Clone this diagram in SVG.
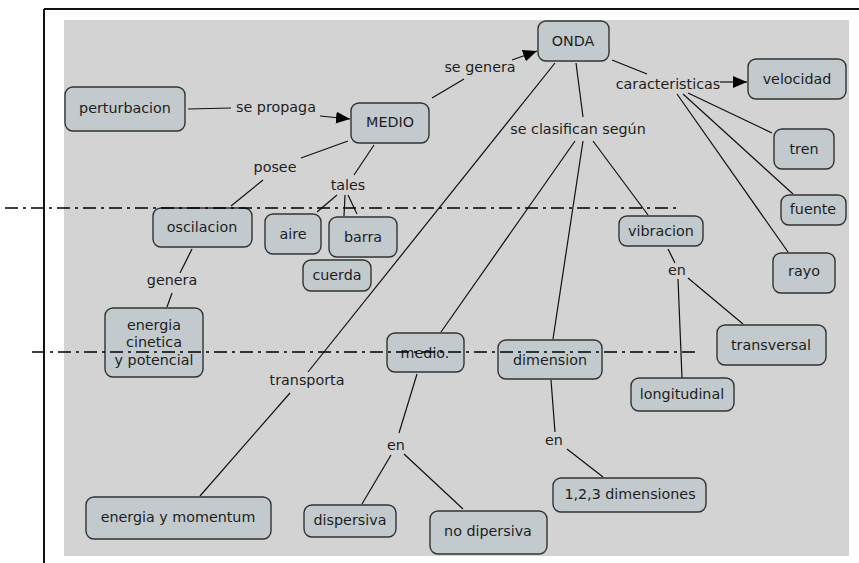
<svg xmlns="http://www.w3.org/2000/svg" width="859" height="563" viewBox="0 0 859 563">
  <style>
    .node rect { fill: #c2cacd; stroke: #333; stroke-width: 1.4; }
    text { font-family: "DejaVu Sans", Verdana, sans-serif; font-size: 14.3px; fill: #1e1e1e; text-anchor: middle; dominant-baseline: central; }
    .conn line { stroke: #111; stroke-width: 1.2; fill: none; }
    .guide { stroke: #000; stroke-width: 1.5; stroke-dasharray: 13 5 3 5; }
  </style>
  <defs>
    <marker id="arrow" markerUnits="userSpaceOnUse" markerWidth="14" markerHeight="12" refX="14" refY="6" orient="auto">
      <path d="M0,0 L14,6 L0,12 z" fill="#000"/>
    </marker>
  </defs>

  <rect width="859" height="563" fill="#fff"/>
  <!-- frame -->
  <line x1="44" y1="9" x2="859" y2="9" stroke="#111" stroke-width="2"/>
  <line x1="44" y1="9" x2="44" y2="563" stroke="#111" stroke-width="2"/>
  <!-- canvas -->
  <rect x="64" y="20" width="785" height="536" fill="#d3d3d3"/>

  <g class="conn" id="connectors">
    <line x1="188" y1="109" x2="231" y2="108"/>
    <line x1="320" y1="116" x2="350" y2="119" marker-end="url(#arrow)"/>
    <line x1="432" y1="98" x2="464" y2="79"/>
    <line x1="512" y1="60" x2="537" y2="51" marker-end="url(#arrow)"/>
    <line x1="612" y1="60" x2="647" y2="74"/>
    <line x1="720" y1="82" x2="747" y2="82" marker-end="url(#arrow)"/>
    <line x1="688" y1="93" x2="772" y2="133"/>
    <line x1="683" y1="94" x2="793" y2="194"/>
    <line x1="677" y1="94" x2="788" y2="252"/>
    <line x1="576" y1="63" x2="583" y2="117"/>
    <line x1="575" y1="141" x2="441" y2="332"/>
    <line x1="583" y1="141" x2="553" y2="339"/>
    <line x1="593" y1="141" x2="648" y2="215"/>
    <line x1="668" y1="249" x2="675" y2="263"/>
    <line x1="678" y1="279" x2="682" y2="378"/>
    <line x1="688" y1="278" x2="743" y2="324"/>
    <line x1="555" y1="63" x2="308" y2="372"/>
    <line x1="290" y1="393" x2="200" y2="496"/>
    <line x1="417" y1="374" x2="399" y2="433"/>
    <line x1="391" y1="455" x2="362" y2="504"/>
    <line x1="404" y1="454" x2="463" y2="509"/>
    <line x1="551" y1="380" x2="555" y2="432"/>
    <line x1="567" y1="449" x2="603" y2="477"/>
    <line x1="348" y1="141" x2="301" y2="158"/>
    <line x1="263" y1="180" x2="231" y2="206"/>
    <line x1="192" y1="249" x2="180" y2="273"/>
    <line x1="172" y1="293" x2="167" y2="307"/>
    <line x1="374" y1="145" x2="354" y2="175"/>
    <line x1="337" y1="195" x2="317" y2="212"/>
    <line x1="345" y1="195" x2="344" y2="216"/>
    <line x1="348" y1="195" x2="357" y2="214"/>
  </g>

  <!-- link labels -->
  <g id="labels">
    <text x="276" y="107">se propaga</text>
    <text x="480" y="67">se genera</text>
    <text x="668" y="84">caracteristicas</text>
    <text x="578" y="129">se clasifican según</text>
    <text x="275" y="167">posee</text>
    <text x="348" y="185">tales</text>
    <text x="172" y="280">genera</text>
    <text x="677" y="270">en</text>
    <text x="307" y="380">transporta</text>
    <text x="396" y="445">en</text>
    <text x="554" y="440">en</text>
  </g>

  <g class="node" id="perturbacion"><rect x="65" y="87" width="120" height="44" rx="8"/><text x="125" y="108">perturbacion</text></g>
  <g class="node" id="medio-top"><rect x="351" y="103" width="78" height="40" rx="8"/><text x="390" y="122">MEDIO</text></g>
  <g class="node" id="onda"><rect x="538" y="21" width="71" height="40" rx="8"/><text x="573" y="41">ONDA</text></g>
  <g class="node" id="velocidad"><rect x="748" y="59" width="98" height="40" rx="8"/><text x="797" y="79">velocidad</text></g>
  <g class="node" id="tren"><rect x="774" y="129" width="60" height="40" rx="8"/><text x="804" y="149">tren</text></g>
  <g class="node" id="fuente"><rect x="781" y="195" width="65" height="30" rx="8"/><text x="813" y="209">fuente</text></g>
  <g class="node" id="rayo"><rect x="773" y="253" width="62" height="40" rx="8"/><text x="804" y="271">rayo</text></g>
  <g class="node" id="oscilacion"><rect x="153" y="208" width="99" height="39" rx="8"/><text x="202" y="227">oscilacion</text></g>
  <g class="node" id="aire"><rect x="265" y="214" width="56" height="40" rx="8"/><text x="293" y="234">aire</text></g>
  <g class="node" id="barra"><rect x="329" y="217" width="68" height="40" rx="8"/><text x="363" y="237">barra</text></g>
  <g class="node" id="cuerda"><rect x="303" y="260" width="68" height="31" rx="8"/><text x="337" y="275">cuerda</text></g>
  <g class="node" id="energia-cinetica"><rect x="105" y="308" width="98" height="69" rx="8"/>
    <text x="154" y="325">energia</text><text x="154" y="342">cinetica</text><text x="154" y="360">y potencial</text></g>
  <g class="node" id="vibracion"><rect x="619" y="216" width="84" height="30" rx="8"/><text x="661" y="231">vibracion</text></g>
  <g class="node" id="transversal"><rect x="717" y="325" width="109" height="40" rx="8"/><text x="771" y="345">transversal</text></g>
  <g class="node" id="longitudinal"><rect x="631" y="378" width="103" height="33" rx="8"/><text x="682" y="394">longitudinal</text></g>
  <g class="node" id="medio"><rect x="387" y="333" width="77" height="39" rx="8"/><text x="425" y="353">medio.</text></g>
  <g class="node" id="dimension"><rect x="498" y="340" width="104" height="39" rx="8"/><text x="550" y="360">dimension</text></g>
  <g class="node" id="energia-momentum"><rect x="86" y="497" width="185" height="42" rx="8"/><text x="178" y="517">energia y momentum</text></g>
  <g class="node" id="dispersiva"><rect x="304" y="505" width="92" height="32" rx="8"/><text x="350" y="520">dispersiva</text></g>
  <g class="node" id="no-dipersiva"><rect x="430" y="511" width="117" height="43" rx="8"/><text x="488" y="531">no dipersiva</text></g>
  <g class="node" id="dimensiones"><rect x="553" y="478" width="153" height="34" rx="8"/><text x="630" y="494">1,2,3 dimensiones</text></g>

  <!-- dash-dot guide lines over the map -->
  <line class="guide" x1="5" y1="208" x2="676" y2="208"/>
  <line class="guide" x1="32" y1="352" x2="700" y2="352"/>
</svg>
